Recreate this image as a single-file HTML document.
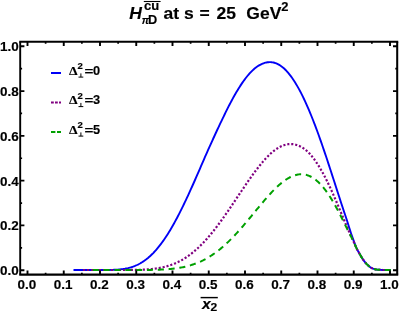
<!DOCTYPE html>
<html><head><meta charset="utf-8"><title>plot</title>
<style>
html,body{margin:0;padding:0;background:#fff;}
svg{display:block;}
text{font-family:"Liberation Sans",sans-serif;font-weight:bold;fill:#000;stroke:#000;stroke-width:0.16px;stroke-linejoin:round;}
svg{will-change:transform;}
</style></head><body>
<svg width="399" height="312" viewBox="0 0 399 312">
<rect width="399" height="312" fill="#fff"/>
<path d="M73.50,270.00 L74.00,270.00 L75.00,270.00 L76.00,270.00 L77.00,270.00 L78.00,270.00 L79.00,270.00 L80.00,270.00 L81.00,270.00 L82.00,270.00 L83.00,270.00 L84.00,270.00 L85.00,270.00 L86.00,270.00 L87.00,270.00 L88.00,270.00 L89.00,270.00 L90.00,270.00 L91.00,270.00 L92.00,270.00 L93.00,270.00 L94.00,270.00 L95.00,270.00 L96.00,270.00 L97.00,270.00 L98.00,270.00 L99.00,270.00 L100.00,270.00 L101.00,270.00 L102.00,270.00 L103.00,270.00 L104.00,269.99 L105.00,269.99 L106.00,269.98 L107.00,269.97 L108.00,269.96 L109.00,269.95 L110.00,269.93 L111.00,269.91 L112.00,269.88 L113.00,269.85 L114.00,269.81 L115.00,269.77 L116.00,269.71 L117.00,269.65 L118.00,269.58 L119.00,269.50 L120.00,269.40 L121.00,269.29 L122.00,269.17 L123.00,269.04 L124.00,268.88 L125.00,268.72 L126.00,268.53 L127.00,268.32 L128.00,268.10 L129.00,267.85 L130.00,267.58 L131.00,267.29 L132.00,266.98 L133.00,266.64 L134.00,266.27 L135.00,265.88 L136.00,265.46 L137.00,265.01 L138.00,264.53 L139.00,264.02 L140.00,263.48 L141.00,262.90 L142.00,262.30 L143.00,261.66 L144.00,260.98 L145.00,260.27 L146.00,259.53 L147.00,258.75 L148.00,257.94 L149.00,257.08 L150.00,256.19 L151.00,255.26 L152.00,254.30 L153.00,253.30 L154.00,252.25 L155.00,251.17 L156.00,250.05 L157.00,248.90 L158.00,247.70 L159.00,246.47 L160.00,245.19 L161.00,243.88 L162.00,242.53 L163.00,241.14 L164.00,239.72 L165.00,238.26 L166.00,236.76 L167.00,235.22 L168.00,233.64 L169.00,232.04 L170.00,230.39 L171.00,228.71 L172.00,227.00 L173.00,225.25 L174.00,223.47 L175.00,221.66 L176.00,219.82 L177.00,217.94 L178.00,216.04 L179.00,214.10 L180.00,212.14 L181.00,210.15 L182.00,208.14 L183.00,206.10 L184.00,204.03 L185.00,201.94 L186.00,199.83 L187.00,197.70 L188.00,195.55 L189.00,193.37 L190.00,191.18 L191.00,188.98 L192.00,186.75 L193.00,184.51 L194.00,182.26 L195.00,180.00 L196.00,177.72 L197.00,175.44 L198.00,173.14 L199.00,170.84 L200.00,168.53 L201.00,166.22 L202.00,163.90 L203.00,161.58 L204.00,159.26 L205.00,156.94 L206.04,154.61 L207.07,152.30 L208.11,149.98 L209.14,147.67 L210.18,145.37 L211.21,143.07 L212.25,140.79 L213.28,138.51 L214.32,136.24 L215.35,133.99 L216.39,131.75 L217.42,129.52 L218.46,127.32 L219.49,125.13 L220.53,122.95 L221.56,120.80 L222.60,118.67 L223.60,116.57 L224.60,114.49 L225.60,112.44 L226.60,110.41 L227.60,108.41 L228.60,106.44 L229.60,104.49 L230.60,102.58 L231.60,100.70 L232.60,98.85 L233.60,97.04 L234.60,95.26 L235.60,93.51 L236.60,91.81 L237.60,90.14 L238.60,88.51 L239.60,86.92 L240.60,85.37 L241.60,83.86 L242.60,82.39 L243.60,80.97 L244.60,79.60 L245.60,78.27 L246.60,76.98 L247.60,75.74 L248.60,74.55 L249.60,73.41 L250.60,72.32 L251.60,71.31 L252.60,70.34 L253.60,69.43 L254.60,68.57 L255.60,67.76 L256.60,67.01 L257.60,66.31 L258.60,65.67 L259.60,65.08 L260.60,64.55 L261.60,64.08 L262.60,63.66 L263.59,63.27 L264.57,62.93 L265.56,62.66 L266.55,62.44 L267.54,62.28 L268.52,62.19 L269.51,62.15 L270.50,62.17 L271.48,62.23 L272.45,62.34 L273.43,62.51 L274.40,62.75 L275.38,63.05 L276.35,63.41 L277.32,63.83 L278.30,64.32 L279.27,64.86 L280.25,65.47 L281.23,66.15 L282.20,66.88 L283.18,67.69 L284.15,68.55 L285.12,69.49 L286.10,70.48 L287.07,71.53 L288.05,72.65 L289.02,73.83 L290.00,75.07 L291.00,76.39 L292.00,77.78 L293.00,79.23 L294.00,80.74 L295.00,82.30 L296.00,83.93 L297.00,85.62 L298.00,87.36 L299.00,89.16 L300.00,91.02 L301.00,92.93 L302.00,94.90 L303.00,96.93 L304.00,99.01 L305.00,101.14 L306.00,103.33 L307.00,105.56 L308.00,107.85 L309.00,110.19 L310.00,112.57 L311.00,115.01 L312.00,117.49 L313.00,120.01 L314.00,122.58 L315.00,125.19 L316.00,127.85 L317.00,130.54 L318.00,133.27 L319.00,136.04 L320.00,138.84 L321.00,141.68 L322.00,144.55 L323.00,147.45 L324.00,150.38 L325.00,153.34 L326.00,156.32 L327.00,159.32 L328.00,162.35 L329.00,165.39 L330.00,168.45 L331.00,171.52 L332.00,174.61 L333.00,177.70 L334.00,180.81 L335.00,183.91 L336.00,187.02 L337.00,190.13 L338.00,193.23 L339.00,196.32 L340.00,199.41 L341.00,202.48 L342.00,205.53 L343.00,208.57 L344.00,211.58 L345.00,214.57 L346.00,217.52 L347.00,220.57 L348.00,223.75 L349.00,226.97 L350.00,230.15 L351.00,233.21 L352.00,236.14 L353.00,238.94 L354.00,241.69 L355.00,244.41 L356.00,246.95 L357.00,249.15 L358.00,251.05 L359.00,252.80 L360.00,254.50 L361.00,256.21 L362.00,257.90 L363.00,259.48 L364.00,260.90 L365.00,262.16 L366.00,263.31 L367.00,264.37 L368.00,265.30 L369.00,266.16 L370.00,266.97 L371.00,267.67 L372.00,268.20 L373.00,268.61 L374.00,268.97 L375.00,269.26 L376.00,269.45 L377.00,269.58 L378.00,269.68 L379.00,269.75 L380.00,269.82 L381.00,269.88 L382.00,269.94 L383.00,269.98 L384.00,270.00 L385.00,270.00 L386.00,270.00 L387.00,270.00 L388.00,270.00 L389.00,270.00 L390.00,270.00 L390.80,270.00" fill="none" stroke="#0000f6" stroke-width="1.9"/>
<path d="M83.00,270.00 L84.00,270.00 L85.00,270.00 L86.00,270.00 L87.00,270.00 L88.00,270.00 L89.00,270.00 L90.00,270.00 L91.00,270.00 L92.00,270.00 L93.00,270.00 L94.00,270.00 L95.00,270.00 L96.00,270.00 L97.00,270.00 L98.00,270.00 L99.00,270.00 L100.00,270.00 L101.00,270.00 L102.00,270.00 L103.00,270.00 L104.00,270.00 L105.00,270.00 L106.00,270.00 L107.00,270.00 L108.00,270.00 L109.00,270.00 L110.00,270.00 L111.00,270.00 L112.00,270.00 L113.00,270.00 L114.00,270.00 L115.00,270.00 L116.00,270.00 L117.00,270.00 L118.00,270.00 L119.00,270.00 L120.00,269.99 L121.00,269.99 L122.00,269.99 L123.00,269.99 L124.00,269.99 L125.00,269.98 L126.00,269.98 L127.00,269.97 L128.00,269.97 L129.00,269.96 L130.00,269.95 L131.00,269.94 L132.00,269.93 L133.00,269.92 L134.00,269.90 L135.00,269.89 L136.00,269.87 L137.00,269.85 L138.00,269.82 L139.00,269.79 L140.00,269.76 L141.00,269.73 L142.00,269.69 L143.00,269.65 L144.00,269.60 L145.00,269.54 L146.00,269.49 L147.00,269.42 L148.00,269.35 L149.00,269.27 L150.00,269.19 L151.00,269.10 L152.00,269.00 L153.00,268.89 L154.00,268.77 L155.00,268.64 L156.00,268.51 L157.00,268.36 L158.00,268.20 L159.00,268.03 L160.00,267.85 L161.00,267.66 L162.00,267.45 L163.00,267.24 L164.00,267.00 L165.00,266.76 L166.00,266.49 L167.00,266.22 L168.00,265.93 L169.00,265.62 L170.00,265.29 L171.00,264.95 L172.00,264.59 L173.00,264.21 L174.00,263.81 L175.00,263.40 L176.00,262.97 L177.00,262.51 L178.00,262.04 L179.00,261.54 L180.00,261.03 L181.00,260.49 L182.00,259.94 L183.00,259.36 L184.00,258.76 L185.00,258.14 L186.00,257.49 L187.00,256.83 L188.00,256.14 L189.00,255.42 L190.00,254.69 L191.00,253.93 L192.00,253.15 L193.00,252.35 L194.00,251.52 L195.00,250.67 L196.00,249.80 L197.00,248.90 L198.00,247.98 L199.00,247.04 L200.00,246.07 L201.00,245.08 L202.00,244.07 L203.00,243.04 L204.00,241.98 L205.00,240.91 L206.00,239.81 L207.00,238.69 L208.00,237.55 L209.00,236.39 L210.00,235.21 L211.00,234.01 L212.00,232.79 L213.00,231.55 L214.00,230.29 L215.00,229.01 L216.00,227.72 L217.00,226.41 L218.00,225.09 L219.00,223.74 L220.00,222.39 L221.00,221.02 L222.00,219.63 L223.00,218.23 L224.00,216.82 L225.00,215.40 L226.00,213.97 L227.00,212.53 L228.00,211.07 L229.00,209.61 L230.00,208.15 L231.00,206.67 L232.00,205.19 L233.00,203.70 L234.00,202.21 L235.00,200.72 L236.00,199.22 L237.00,197.72 L238.00,196.23 L239.00,194.73 L240.00,193.23 L241.00,191.74 L242.00,190.25 L243.00,188.76 L244.00,187.28 L245.00,185.81 L246.00,184.34 L247.00,182.88 L248.00,181.43 L249.00,179.99 L250.00,178.57 L251.00,177.15 L252.00,175.75 L253.00,174.37 L254.00,173.00 L255.00,171.65 L256.00,170.31 L257.00,169.00 L258.00,167.71 L259.00,166.44 L260.00,165.19 L261.00,163.96 L262.00,162.76 L263.00,161.59 L264.00,160.44 L265.00,159.32 L266.00,158.23 L267.00,157.17 L268.00,156.15 L269.00,155.15 L270.00,154.19 L270.98,153.29 L271.96,152.43 L272.94,151.61 L273.91,150.82 L274.89,150.08 L275.87,149.37 L276.85,148.70 L277.83,148.08 L278.81,147.50 L279.79,146.96 L280.76,146.47 L281.74,146.02 L282.72,145.62 L283.70,145.27 L284.70,144.94 L285.70,144.66 L286.70,144.43 L287.70,144.25 L288.70,144.12 L289.70,144.05 L290.70,144.02 L291.70,144.06 L292.70,144.14 L293.70,144.29 L294.70,144.48 L295.70,144.74 L296.73,145.02 L297.75,145.35 L298.77,145.75 L299.80,146.20 L300.82,146.71 L301.85,147.28 L302.88,147.91 L303.90,148.60 L304.93,149.35 L305.95,150.16 L306.98,151.03 L308.00,151.96 L309.00,152.98 L310.00,154.06 L311.00,155.20 L312.00,156.40 L313.00,157.66 L314.00,158.97 L315.00,160.35 L316.00,161.78 L317.00,163.27 L318.00,164.81 L319.00,166.41 L320.00,168.07 L321.00,169.77 L322.00,171.53 L323.00,173.34 L324.00,175.20 L325.00,177.11 L326.00,179.06 L327.00,181.06 L328.00,183.10 L329.00,185.18 L330.00,187.31 L331.00,189.47 L332.00,191.66 L333.00,193.89 L334.00,196.15 L335.00,198.44 L336.00,200.75 L337.00,203.08 L338.00,205.43 L339.00,207.80 L340.00,210.19 L341.00,212.58 L342.00,214.98 L343.00,217.38 L344.00,219.78 L345.00,222.17 L346.00,224.56 L347.00,226.93 L348.00,229.26 L349.00,231.56 L350.00,233.81 L351.00,236.01 L352.00,238.15 L353.00,240.29 L354.00,242.51 L355.00,244.84 L356.00,247.13 L357.00,249.19 L358.00,251.05 L359.00,252.80 L360.00,254.50 L361.00,256.21 L362.00,257.90 L363.00,259.48 L364.00,260.90 L365.00,262.16 L366.00,263.31 L367.00,264.37 L368.00,265.30 L369.00,266.16 L370.00,266.97 L371.00,267.67 L372.00,268.20 L373.00,268.61 L374.00,268.97 L375.00,269.26 L376.00,269.45 L377.00,269.58 L378.00,269.68 L379.00,269.75 L380.00,269.82 L381.00,269.88 L382.00,269.94 L383.00,269.98 L384.00,270.00 L385.00,270.00 L386.00,270.00 L387.00,270.00 L388.00,270.00 L389.00,270.00 L390.00,270.00 L390.80,270.00" fill="none" stroke="#800080" stroke-width="2.2" stroke-dasharray="2.1 1.889"/>
<path d="M92.80,270.00 L94.00,270.00 L95.00,270.00 L96.00,270.00 L97.00,270.00 L98.00,270.00 L99.00,270.00 L100.00,270.00 L101.00,270.00 L102.00,270.00 L103.00,270.00 L104.00,270.00 L105.00,270.00 L106.00,270.00 L107.00,270.00 L108.00,270.00 L109.00,270.00 L110.00,270.00 L111.00,270.00 L112.00,270.00 L113.00,270.00 L114.00,270.00 L115.00,270.00 L116.00,270.00 L117.00,270.00 L118.00,270.00 L119.00,270.00 L120.00,270.00 L121.00,270.00 L122.00,270.00 L123.00,270.00 L124.00,270.00 L125.00,270.00 L126.00,270.00 L127.00,270.00 L128.00,270.00 L129.00,270.00 L130.00,270.00 L131.00,270.00 L132.00,270.00 L133.00,269.99 L134.00,269.99 L135.00,269.99 L136.00,269.99 L137.00,269.99 L138.00,269.99 L139.00,269.98 L140.00,269.98 L141.00,269.97 L142.00,269.97 L143.00,269.96 L144.00,269.96 L145.00,269.95 L146.00,269.94 L147.00,269.93 L148.00,269.92 L149.00,269.91 L150.00,269.90 L151.00,269.88 L152.00,269.86 L153.00,269.84 L154.00,269.82 L155.00,269.80 L156.00,269.77 L157.00,269.74 L158.00,269.71 L159.00,269.68 L160.00,269.64 L161.00,269.60 L162.00,269.55 L163.00,269.50 L164.00,269.45 L165.00,269.39 L166.00,269.32 L167.00,269.25 L168.00,269.18 L169.00,269.10 L170.00,269.01 L171.00,268.92 L172.00,268.82 L173.00,268.71 L174.00,268.59 L175.00,268.47 L176.00,268.34 L177.00,268.20 L178.00,268.05 L179.00,267.89 L180.00,267.72 L181.00,267.55 L182.00,267.36 L183.00,267.16 L184.00,266.95 L185.00,266.73 L186.00,266.49 L187.00,266.25 L188.00,265.99 L189.00,265.71 L190.00,265.43 L191.00,265.13 L192.00,264.82 L193.00,264.49 L194.00,264.15 L195.00,263.79 L196.00,263.42 L197.00,263.03 L198.00,262.62 L199.00,262.20 L200.00,261.76 L201.00,261.31 L202.00,260.83 L203.00,260.35 L204.00,259.84 L205.00,259.31 L206.00,258.77 L207.00,258.21 L208.00,257.63 L209.00,257.03 L210.00,256.42 L211.00,255.78 L212.00,255.13 L213.00,254.45 L214.00,253.76 L215.00,253.05 L216.00,252.32 L217.00,251.57 L218.00,250.80 L219.00,250.02 L220.00,249.21 L221.00,248.39 L222.00,247.54 L223.00,246.68 L224.00,245.80 L225.00,244.91 L226.00,243.99 L227.00,243.06 L228.00,242.11 L229.00,241.14 L230.00,240.16 L231.00,239.16 L232.00,238.14 L233.00,237.11 L234.00,236.06 L235.00,235.00 L236.00,233.93 L237.00,232.84 L238.00,231.74 L239.00,230.63 L240.00,229.50 L241.00,228.36 L242.00,227.22 L243.00,226.06 L244.00,224.89 L245.00,223.72 L246.00,222.53 L247.00,221.34 L248.00,220.15 L249.00,218.94 L250.00,217.74 L251.00,216.53 L252.00,215.31 L253.00,214.10 L254.00,212.88 L255.00,211.66 L256.00,210.45 L257.00,209.23 L258.00,208.02 L259.00,206.81 L260.00,205.61 L261.00,204.41 L262.00,203.22 L263.00,202.04 L264.00,200.86 L265.00,199.70 L266.00,198.54 L267.00,197.40 L268.00,196.28 L269.00,195.16 L270.00,194.07 L271.00,192.99 L272.00,191.93 L273.00,190.88 L274.00,189.86 L275.00,188.86 L276.00,187.88 L277.00,186.93 L278.00,186.00 L279.00,185.10 L280.00,184.23 L281.00,183.38 L282.00,182.57 L283.00,181.78 L284.00,181.03 L285.00,180.31 L286.00,179.62 L287.00,178.98 L288.00,178.36 L289.00,177.79 L290.00,177.26 L291.00,176.76 L292.00,176.31 L293.00,175.90 L294.00,175.53 L295.00,175.21 L296.00,174.93 L297.00,174.70 L298.00,174.51 L299.00,174.37 L300.00,174.29 L301.00,174.25 L302.00,174.26 L303.00,174.32 L304.00,174.44 L305.00,174.61 L306.00,174.83 L307.00,175.10 L308.00,175.43 L309.00,175.82 L310.00,176.26 L311.00,176.76 L312.00,177.31 L313.00,177.92 L314.00,178.58 L315.00,179.30 L316.00,180.08 L317.00,180.92 L318.00,181.81 L319.00,182.75 L320.00,183.76 L321.00,184.82 L322.00,185.93 L323.00,187.11 L324.00,188.33 L325.00,189.61 L326.00,190.94 L327.00,192.33 L328.00,193.76 L329.00,195.25 L330.00,196.78 L331.00,198.37 L332.00,200.00 L333.00,201.67 L334.00,203.39 L335.00,205.14 L336.00,206.94 L337.00,208.78 L338.00,210.65 L339.00,212.55 L340.00,214.48 L341.00,216.45 L342.00,218.43 L343.00,220.44 L344.00,222.47 L345.00,224.51 L346.00,226.57 L347.00,228.60 L348.00,230.58 L349.00,232.54 L350.00,234.49 L351.00,236.45 L352.00,238.41 L353.00,240.42 L354.00,242.56 L355.00,244.85 L356.00,247.13 L357.00,249.18 L358.00,251.05 L359.00,252.80 L360.00,254.50 L361.00,256.21 L362.00,257.90 L363.00,259.48 L364.00,260.90 L365.00,262.16 L366.00,263.31 L367.00,264.37 L368.00,265.30 L369.00,266.16 L370.00,266.97 L371.00,267.67 L372.00,268.20 L373.00,268.61 L374.00,268.97 L375.00,269.26 L376.00,269.45 L377.00,269.58 L378.00,269.68 L379.00,269.75 L380.00,269.82 L381.00,269.88 L382.00,269.94 L383.00,269.98 L384.00,270.00 L385.00,270.00 L386.00,270.00 L387.00,270.00 L388.00,270.00 L389.00,270.00 L390.00,270.00 L390.80,270.00" fill="none" stroke="#00a000" stroke-width="2.0" stroke-dasharray="6.1 4.73"/>
<g stroke="#000" fill="none">
<line x1="19.25" y1="41.75" x2="398.22499999999997" y2="41.75" stroke-width="2.0"/>
<line x1="19.25" y1="274.6" x2="398.22499999999997" y2="274.6" stroke-width="2.2"/>
<line x1="20.2" y1="41.75" x2="20.2" y2="274.6" stroke-width="1.9"/>
<line x1="397.2" y1="41.75" x2="397.2" y2="274.6" stroke-width="2.05"/>
<path d="M27.50,274.6 v-4.2 M27.50,41.75 v4.2 M63.75,274.6 v-4.2 M63.75,41.75 v4.2 M100.00,274.6 v-4.2 M100.00,41.75 v4.2 M136.25,274.6 v-4.2 M136.25,41.75 v4.2 M172.50,274.6 v-4.2 M172.50,41.75 v4.2 M208.75,274.6 v-4.2 M208.75,41.75 v4.2 M245.00,274.6 v-4.2 M245.00,41.75 v4.2 M281.25,274.6 v-4.2 M281.25,41.75 v4.2 M317.50,274.6 v-4.2 M317.50,41.75 v4.2 M353.75,274.6 v-4.2 M353.75,41.75 v4.2 M390.00,274.6 v-4.2 M390.00,41.75 v4.2 M20.2,270.20 h4.2 M397.2,270.20 h-4.2 M20.2,225.42 h4.2 M397.2,225.42 h-4.2 M20.2,180.64 h4.2 M397.2,180.64 h-4.2 M20.2,135.86 h4.2 M397.2,135.86 h-4.2 M20.2,91.08 h4.2 M397.2,91.08 h-4.2 M20.2,46.30 h4.2 M397.2,46.30 h-4.2" stroke-width="1.9"/>
<path d="M45.62,274.6 v-1.9 M45.62,41.75 v1.9 M81.88,274.6 v-1.9 M81.88,41.75 v1.9 M118.12,274.6 v-1.9 M118.12,41.75 v1.9 M154.38,274.6 v-1.9 M154.38,41.75 v1.9 M190.62,274.6 v-1.9 M190.62,41.75 v1.9 M226.88,274.6 v-1.9 M226.88,41.75 v1.9 M263.12,274.6 v-1.9 M263.12,41.75 v1.9 M299.38,274.6 v-1.9 M299.38,41.75 v1.9 M335.63,274.6 v-1.9 M335.63,41.75 v1.9 M371.88,274.6 v-1.9 M371.88,41.75 v1.9 M20.2,247.81 h1.9 M397.2,247.81 h-1.9 M20.2,203.03 h1.9 M397.2,203.03 h-1.9 M20.2,158.25 h1.9 M397.2,158.25 h-1.9 M20.2,113.47 h1.9 M397.2,113.47 h-1.9 M20.2,68.69 h1.9 M397.2,68.69 h-1.9" stroke-width="1.7"/>
</g>
<text transform="translate(26.90,288.90) scale(0.985,1)" font-size="13.7" text-anchor="middle">0.0</text>
<text transform="translate(63.15,288.90) scale(0.985,1)" font-size="13.7" text-anchor="middle">0.1</text>
<text transform="translate(99.40,288.90) scale(0.985,1)" font-size="13.7" text-anchor="middle">0.2</text>
<text transform="translate(135.65,288.90) scale(0.985,1)" font-size="13.7" text-anchor="middle">0.3</text>
<text transform="translate(171.90,288.90) scale(0.985,1)" font-size="13.7" text-anchor="middle">0.4</text>
<text transform="translate(208.15,288.90) scale(0.985,1)" font-size="13.7" text-anchor="middle">0.5</text>
<text transform="translate(244.40,288.90) scale(0.985,1)" font-size="13.7" text-anchor="middle">0.6</text>
<text transform="translate(280.65,288.90) scale(0.985,1)" font-size="13.7" text-anchor="middle">0.7</text>
<text transform="translate(316.90,288.90) scale(0.985,1)" font-size="13.7" text-anchor="middle">0.8</text>
<text transform="translate(353.15,288.90) scale(0.985,1)" font-size="13.7" text-anchor="middle">0.9</text>
<text transform="translate(389.40,288.90) scale(0.985,1)" font-size="13.7" text-anchor="middle">1.0</text>
<text transform="translate(18.70,275.15) scale(0.985,1)" font-size="13.7" text-anchor="end">0.0</text>
<text transform="translate(18.70,230.37) scale(0.985,1)" font-size="13.7" text-anchor="end">0.2</text>
<text transform="translate(18.70,185.59) scale(0.985,1)" font-size="13.7" text-anchor="end">0.4</text>
<text transform="translate(18.70,140.81) scale(0.985,1)" font-size="13.7" text-anchor="end">0.6</text>
<text transform="translate(18.70,96.03) scale(0.985,1)" font-size="13.7" text-anchor="end">0.8</text>
<text transform="translate(18.70,51.25) scale(0.985,1)" font-size="13.7" text-anchor="end">1.0</text>
<text transform="translate(129.20,18.85) scale(1.03,1)" font-size="17.0" font-style="italic">H</text>
<text transform="translate(143.90,10.10) scale(1.07,1)" font-size="12.2">cu</text>
<line x1="143.8" y1="1.5" x2="160.6" y2="1.5" stroke="#000" stroke-width="1.1"/>
<text transform="translate(141.70,23.70) scale(0.97,1)" font-size="10.6" font-style="italic">π</text>
<text transform="translate(148.00,23.70) scale(0.98,1)" font-size="13.0">D</text>
<text transform="translate(163.50,18.85) scale(1.03,1)" font-size="17.0">at</text>
<text transform="translate(184.00,18.85) scale(1.03,1)" font-size="17.0">s</text>
<text transform="translate(199.60,18.85) scale(1.03,1)" font-size="17.0">=</text>
<text transform="translate(216.40,18.85) scale(1.03,1)" font-size="17.0">25</text>
<text transform="translate(246.30,18.85) scale(1.03,1)" font-size="17.0">GeV</text>
<text transform="translate(281.20,10.50) scale(0.98,1)" font-size="13.2">2</text>
<text transform="translate(201.90,309.00) scale(1.03,1)" font-size="15.2" font-style="italic">x</text>
<line x1="200.6" y1="297.6" x2="217.8" y2="297.6" stroke="#000" stroke-width="1.45"/>
<text transform="translate(210.40,311.25) scale(1.06,1)" font-size="11.4">2</text>
<line x1="51" y1="73.0" x2="61" y2="73.0" stroke="#0000f6" stroke-width="2"/>
<text transform="translate(68.9,74.80) scale(1.12,1)" font-size="12.2" style="font-family:'Liberation Serif',serif;font-weight:bold">Δ</text>
<text transform="translate(77.60,69.40) scale(1.03,1)" font-size="9.3">2</text>
<path d="M78.5,77.1 h4.8 M80.9,77.1 v-3.7" stroke="#000" stroke-width="1.0" fill="none"/>
<text transform="translate(84.50,74.60) scale(1.32,1)" font-size="11.5">=</text>
<text transform="translate(93.00,74.80) scale(1.04,1)" font-size="12.3">0</text>
<line x1="51" y1="102.5" x2="61" y2="102.5" stroke="#800080" stroke-width="2" stroke-dasharray="2.8 1.2"/>
<text transform="translate(68.9,104.30) scale(1.12,1)" font-size="12.2" style="font-family:'Liberation Serif',serif;font-weight:bold">Δ</text>
<text transform="translate(77.60,98.90) scale(1.03,1)" font-size="9.3">2</text>
<path d="M78.5,106.6 h4.8 M80.9,106.6 v-3.7" stroke="#000" stroke-width="1.0" fill="none"/>
<text transform="translate(84.50,104.10) scale(1.32,1)" font-size="11.5">=</text>
<text transform="translate(93.00,104.30) scale(1.04,1)" font-size="12.3">3</text>
<line x1="51" y1="132.0" x2="61" y2="132.0" stroke="#00a000" stroke-width="2" stroke-dasharray="4.4 1.6"/>
<text transform="translate(68.9,133.80) scale(1.12,1)" font-size="12.2" style="font-family:'Liberation Serif',serif;font-weight:bold">Δ</text>
<text transform="translate(77.60,128.40) scale(1.03,1)" font-size="9.3">2</text>
<path d="M78.5,136.10000000000002 h4.8 M80.9,136.10000000000002 v-3.7" stroke="#000" stroke-width="1.0" fill="none"/>
<text transform="translate(84.50,133.60) scale(1.32,1)" font-size="11.5">=</text>
<text transform="translate(93.00,133.80) scale(1.04,1)" font-size="12.3">5</text>
</svg>
</body></html>
